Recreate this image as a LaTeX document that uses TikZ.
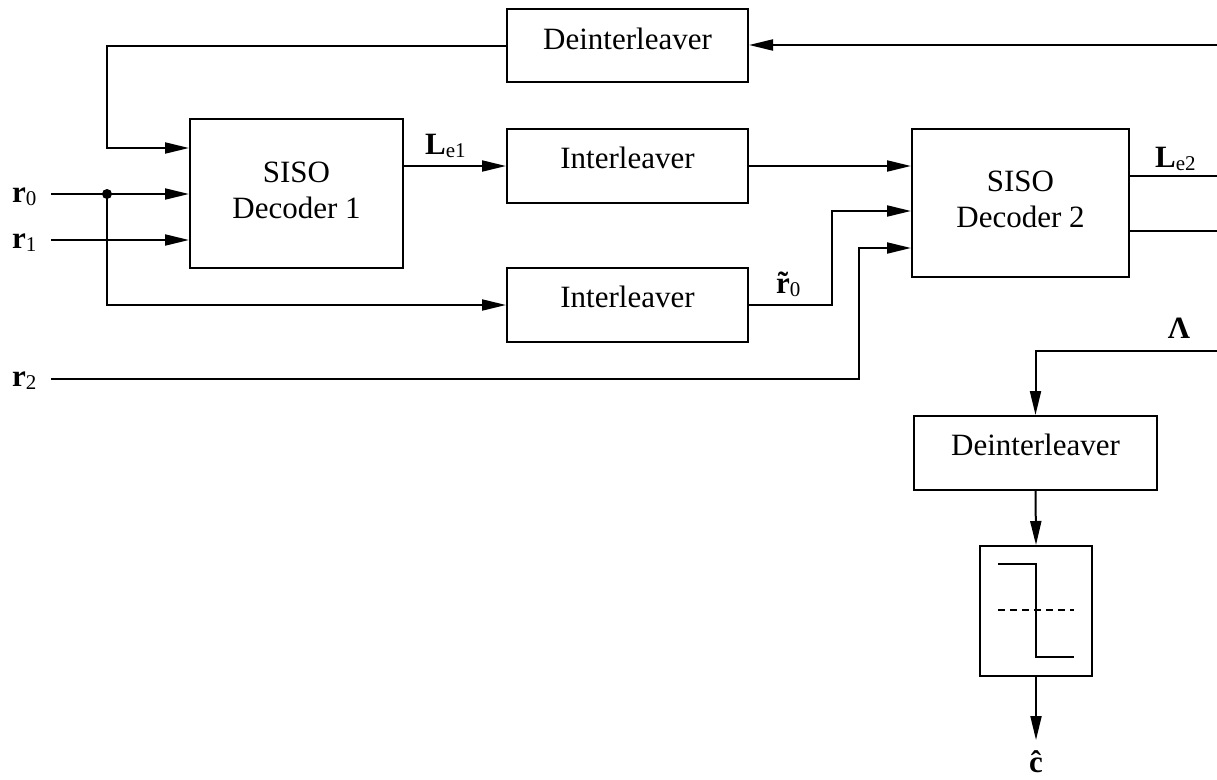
\documentclass[tikz,border=0pt]{standalone}
\usepackage{fontspec}
\setmainfont{Liberation Serif}
\usetikzlibrary{arrows.meta,calc}
\tikzset{
  blk/.style={draw, line width=2pt, inner sep=0pt},
  wire/.style={line width=2pt},
  arr/.style={wire, -{Triangle[length=24pt,width=11pt]}},
  txt/.style={font=\fontsize{31}{36}\selectfont, inner sep=0pt, anchor=base},
  sig/.style={font=\fontsize{31}{36}\selectfont, inner sep=0pt, anchor=base west},
}
\newcommand\subidx[1]{\raisebox{-0.1em}{\fontsize{21}{21}\selectfont #1}}
% bold lowercase letter with a spacing accent glyph laid over it
\newcommand\accbold[2]{\textbf{\ooalign{#2\cr\hidewidth #1\hidewidth\cr}}}

\begin{document}
\begin{tikzpicture}[x=1pt,y=-1pt]
\useasboundingbox (0,0) rectangle (1217,779);

% blocks
\node[blk, minimum width=241pt, minimum height=73pt] (deintA) at (627.5,45.5) {};
\node[blk, minimum width=213pt, minimum height=149pt] (siso1) at (296.5,193.5) {};
\node[blk, minimum width=241pt, minimum height=74pt] (intA) at (627.5,166) {};
\node[blk, minimum width=241pt, minimum height=74pt] (intB) at (627.5,305) {};
\node[blk, minimum width=217pt, minimum height=148pt] (siso2) at (1020.5,203) {};
\node[blk, minimum width=243pt, minimum height=74pt] (deintB) at (1035.5,453) {};
\node[blk, minimum width=112pt, minimum height=130pt] (hd) at (1036,611) {};

% block texts
\node[txt] (tdA) at (627.5,49) {Deinterleaver};
\node[txt] (ts1a) at (296.5,182) {SISO};
\node[txt] (ts1b) at (296.5,218) {Decoder 1};
\node[txt] (tiA) at (627.5,168) {Interleaver};
\node[txt] (tiB) at (627.5,307) {Interleaver};
\node[txt] (ts2a) at (1020.5,191) {SISO};
\node[txt] (ts2b) at (1020.5,227) {Decoder 2};
\node[txt] (tdB) at (1035.5,455) {Deinterleaver};

% hard decision symbol
\draw[wire] (998,564) -- (1036,564) -- (1036,657) -- (1074,657);
\draw[wire, dash pattern=on 7pt off 5pt] (998,610) -- (1074,610);

% free ends and branch point
\coordinate (r0) at (51,194);
\coordinate (r1) at (51,240);
\coordinate (r2) at (51,379);
\coordinate (j) at (107,194);
\coordinate (fb) at (1217,45);
\coordinate (o1) at (1217,176);
\coordinate (o2) at (1217,231);
\coordinate (lam) at (1217,351);
\coordinate (chat) at (1036,740);

% connectors
\draw[arr] (fb) -- (fb -| deintA.east);
\draw[arr] (deintA.west) -| (107,148) -- (siso1.west |- 0,148);
\draw[arr] (r0) -- (r0 -| siso1.west);
\draw[arr] (r1) -- (r1 -| siso1.west);
\fill (j) circle (5pt);
\draw[arr] (j) |- (intB.west);
\draw[arr] (siso1.east |- intA.west) -- (intA.west);
\draw[arr] (intA.east) -- (intA.east -| siso2.west);
\draw[arr] (intB.east) -| (832,211) -- (siso2.west |- 0,211);
\draw[arr] (r2) -| (859,248) -- (siso2.west |- 0,248);
\draw[wire] (siso2.east |- o1) -- (o1);
\draw[wire] (siso2.east |- o2) -- (o2);
\draw[arr] (lam) -| (deintB.north);
\draw[arr] (deintB.south) -- (hd.north);
\draw[arr] (hd.south) -- (chat);

% signal labels
\node[sig] (lr0) at (12,202) {\textbf{r}\subidx{0}};
\node[sig] (lr1) at (12,248) {\textbf{r}\subidx{1}};
\node[sig] (lr2) at (12,386) {\textbf{r}\subidx{2}};
\node[sig] (lle1) at (425,154) {\textbf{L}\subidx{e1}};
\node[sig] (lle2) at (1155,167) {\textbf{L}\subidx{e2}};
\node[sig] (lrt) at (776,293) {\accbold{˜}{r}\subidx{0}};
\node[txt] (llam) at (1179,338) {\textbf{Λ}};
\node[txt] (lc) at (1036,772) {\accbold{ˆ}{c}};
\end{tikzpicture}
\end{document}
